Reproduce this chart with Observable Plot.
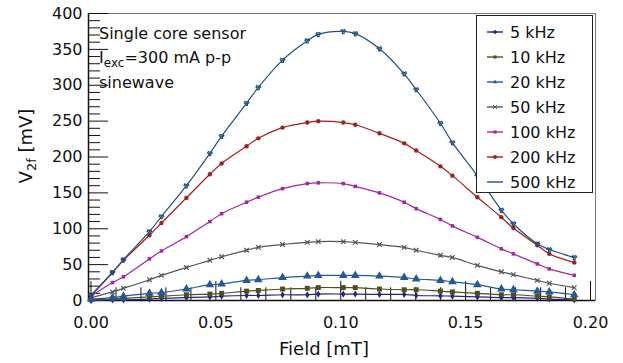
<!DOCTYPE html>
<html><head><meta charset="utf-8">
<script src="https://cdn.jsdelivr.net/npm/d3@7"></script>
<script src="https://cdn.jsdelivr.net/npm/@observablehq/plot@0.6"></script>
<style>
html,body{margin:0;padding:0;background:#fff;}
#chart{width:623px;height:363px;}
</style></head>
<body><div id="chart"></div>
<script>
// Field values [mT]
const field = [0, 0.0086, 0.013, 0.0234, 0.0282, 0.0382, 0.0476, 0.0523, 0.0623, 0.067, 0.0767, 0.0866, 0.091, 0.101, 0.1058, 0.1155, 0.1254, 0.1302, 0.1399, 0.1447, 0.1547, 0.1643, 0.1691, 0.1787, 0.1835, 0.1935];
// V2f [mV] per excitation frequency
const v5k   = [0, 1, 1, 2, 3, 4, 5, 6, 7, 7, 8, 8, 9, 9, 9, 8.5, 8.5, 7, 6.5, 6, 5, 4, 4, 3, 2, 1];
const v10k  = [1, 2, 3, 5, 6, 8, 9, 10, 13, 14, 16, 17, 18, 18, 18, 16, 15, 15, 13, 12, 10, 8, 8, 6, 5, 2];
const v20k  = [2, 4, 6, 10, 11, 16, 22, 23, 28, 29, 32, 34, 35, 35, 35, 34, 32, 30, 28, 26, 22, 16, 15, 13, 12, 8];
const v50k  = [4, 12, 17, 29, 35, 46, 56, 61, 70, 74, 78, 81, 82, 82, 81, 78, 74, 70, 63, 60, 49, 40, 36, 28, 24, 18];
const v100k = [6, 25, 33, 58, 69, 89, 110, 121, 137, 144, 156, 163, 164, 163, 159, 150, 137, 128, 113, 104, 88, 72, 65, 51, 44, 35];
const v200k = [7, 39, 56, 91, 108, 143, 176, 191, 215, 226, 241, 248, 250, 248, 245, 233, 219, 209, 187, 174, 144, 116, 101, 77, 65, 53];
const v500k = [7, 39, 57, 96, 117, 160, 205, 229, 275, 297, 335, 362, 371, 375, 372, 351, 316, 294, 247, 220, 174, 126, 107, 79, 71, 60];

const seriesNames = ["5 kHz", "10 kHz", "20 kHz", "50 kHz", "100 kHz", "200 kHz", "500 kHz"];
const seriesValues = [v5k, v10k, v20k, v50k, v100k, v200k, v500k];
const seriesColors = ["#23238c", "#4f4f1e", "#23599a", "#555555", "#a426a4", "#a31f1c", "#22507f"];
const seriesSymbols = ["diamond", "square", "triangle", "times", "square", "circle", "wye"];
const seriesR = [2.2, 2.8, 3.2, 2.2, 2.0, 2.2, 1.8];

const xTicks = [0, 0.05, 0.10, 0.15, 0.20];
const yTicks = [0, 50, 100, 150, 200, 250, 300, 350, 400];
const xMinor = d3.range(0, 21).map(k => k / 100);
const yMinor = d3.range(0, 41).map(k => k * 10);

const data = [];
seriesNames.forEach((s, i) => field.forEach((f, j) => data.push({series: s, field: f, v: seriesValues[i][j], i})));

const tickShape = {draw(context, l) { context.moveTo(0, 0); context.lineTo(0, -l); }};
const FONT = "'DejaVu Sans', Verdana, sans-serif";

const X0 = -0.001, X1 = 0.202;
const marks = [
  Plot.frame({stroke: "#777"}),
  Plot.ruleX([X0], {stroke: "#111", strokeWidth: 1.5}),
  Plot.ruleY([0], {stroke: "#111", strokeWidth: 1.5}),
  Plot.vector(yMinor, {x: X0, y: d => d, length: d => d % 50 === 0 ? 6 : 3.5, rotate: 90, anchor: "start", shape: tickShape, stroke: "#111", strokeWidth: 1}),
  Plot.vector(xMinor, {x: d => d, y: 0, length: d => Math.round(d * 100) % 5 === 0 ? 6 : 4, rotate: 0, anchor: "start", shape: tickShape, stroke: "#111", strokeWidth: 1}),
  Plot.axisX(xTicks, {tickSize: 0, tickPadding: 16, fontSize: 16, tickFormat: d3.format(".2f"), fill: "#111"}),
  Plot.axisY(yTicks, {tickSize: 0, tickPadding: 6, fontSize: 16, fill: "#111"})
];
seriesNames.forEach((s, i) => {
  const d = data.filter(e => e.i === i);
  marks.push(Plot.line(d, {x: "field", y: "v", stroke: seriesColors[i], strokeWidth: 1.2, curve: "catmull-rom"}));
  const filled = seriesSymbols[i] !== "times" && seriesSymbols[i] !== "wye";
  marks.push(Plot.dot(d, {x: "field", y: "v", symbol: () => seriesSymbols[i], r: seriesR[i],
    fill: filled ? seriesColors[i] : "none", stroke: filled ? "none" : seriesColors[i], strokeWidth: 1.2}));
});

const chart = Plot.plot({
  width: 623, height: 363,
  marginLeft: 88, marginRight: 28, marginTop: 13, marginBottom: 63,
  x: {domain: [X0, X1], label: null},
  y: {domain: [0, 400], label: null},
  symbol: {type: "identity"},
  style: {fontFamily: FONT, fontSize: "16px", color: "#111", background: "#fff"},
  marks
});
document.getElementById("chart").appendChild(chart);

const svg = d3.select(chart);
const txt = (g, size = 16) => g.append("text").attr("text-anchor", "start").style("font-family", FONT).style("font-size", size + "px").attr("fill", "#111");
// axis titles
txt(svg, 18).attr("x", 324).attr("y", 355).attr("text-anchor", "middle").text("Field [mT]");
const yl = txt(svg, 18).attr("transform", "translate(32,146) rotate(-90)").attr("text-anchor", "middle");
yl.append("tspan").text("V");
yl.append("tspan").style("font-size", "13px").attr("dy", 4).text("2f");
yl.append("tspan").attr("dy", -4).text(" [mV]");

// annotation
txt(svg).attr("x", 99).attr("y", 39).text("Single core sensor");
const t2 = txt(svg).attr("x", 99).attr("y", 63);
t2.append("tspan").text("I");
t2.append("tspan").style("font-size", "12px").attr("dy", 4).text("exc");
t2.append("tspan").attr("dy", -4).text("=300 mA p-p");
txt(svg).attr("x", 99).attr("y", 88).text("sinewave");

// legend
const lg = svg.append("g");
lg.append("rect").attr("x", 476.5).attr("y", 15.5).attr("width", 116).attr("height", 177)
  .attr("fill", "#fff").attr("stroke", "#222").attr("stroke-width", 1);
const symMap = {diamond: d3.symbolDiamond2, square: d3.symbolSquare2, triangle: d3.symbolTriangle2, times: d3.symbolTimes, circle: d3.symbolCircle, wye: d3.symbolWye};
seriesNames.forEach((s, i) => {
  const y = 32 + i * 25;
  lg.append("line").attr("x1", 487).attr("x2", 503).attr("y1", y).attr("y2", y)
    .attr("stroke", seriesColors[i]).attr("stroke-width", 1.4);
  if (i < 6) {
    const filled = seriesSymbols[i] !== "times" && seriesSymbols[i] !== "wye";
    lg.append("path").attr("transform", `translate(495,${y})`)
      .attr("d", d3.symbol(symMap[seriesSymbols[i]], Math.PI * 2 * 2)())
      .attr("fill", filled ? seriesColors[i] : "none").attr("stroke", filled ? "none" : seriesColors[i]);
  }
  txt(lg).attr("x", 510).attr("y", y + 6).text(s);
});
</script></body></html>
